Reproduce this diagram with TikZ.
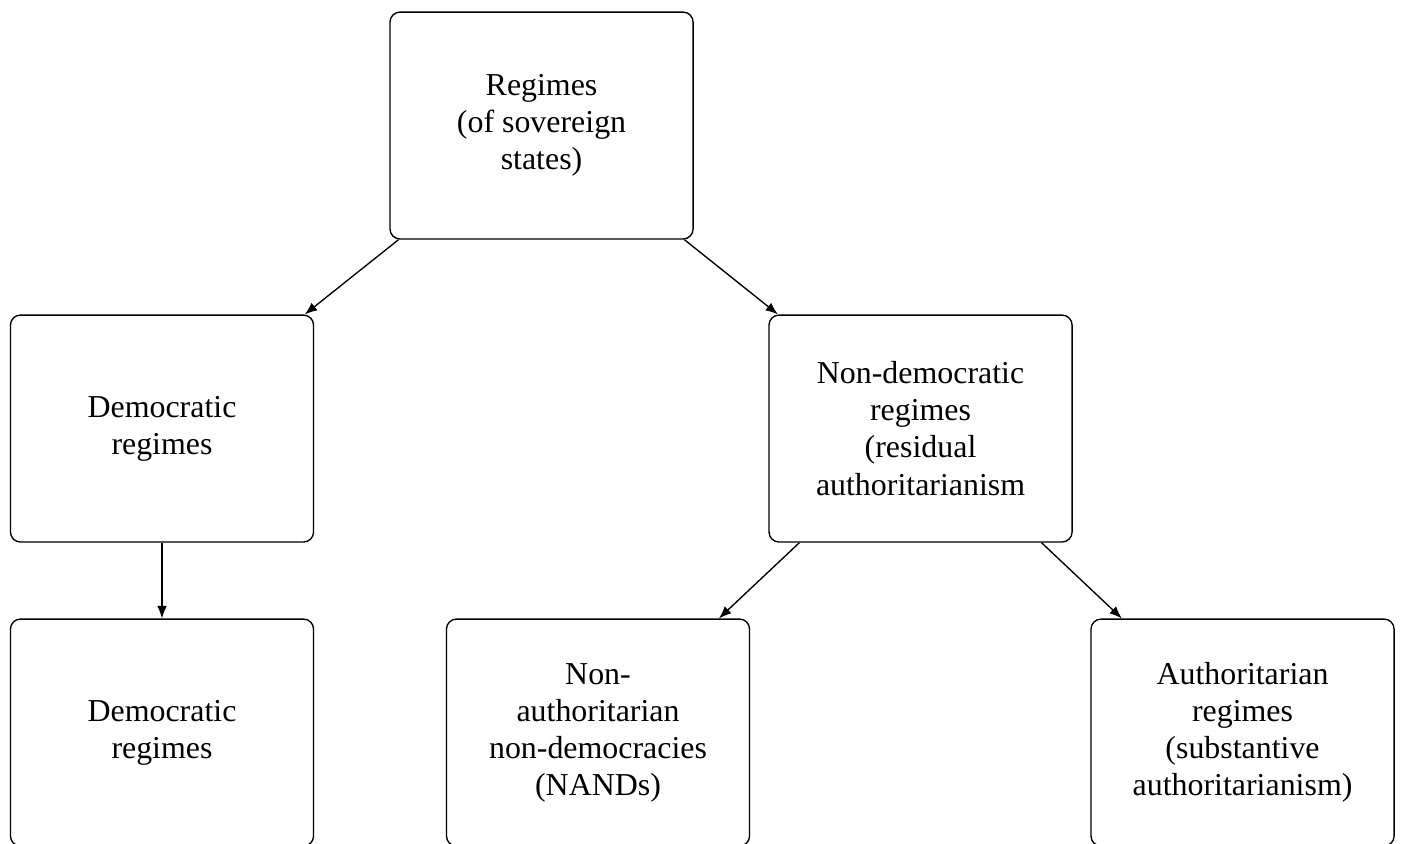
\documentclass[tikz,border=0pt]{standalone}
\usepackage{fontspec}
\setmainfont{Liberation Serif}
\usetikzlibrary{arrows.meta}
\begin{document}
\begin{tikzpicture}[
  regbox/.style={draw, rounded corners=0.13cm, minimum width=3.94cm, minimum height=2.95cm,
    align=center, font=\fontsize{11.8}{13.7}\selectfont, line width=0.5pt},
  link/.style={-{Latex[length=4.6pt,width=3.6pt]}, line width=0.5pt}
]
\useasboundingbox (0,0) rectangle (18.226,-10.959);
% top
\node[regbox] (reg) at (7.04,-1.632) {Regimes\\(of sovereign\\states)};
% middle
\node[regbox] (dem) at (2.106,-5.571) {Democratic\\regimes};
\node[regbox] (nondem) at (11.967,-5.571) {Non-democratic\\regimes\\(residual\\authoritarianism};
% bottom
\node[regbox] (dem2) at (2.106,-9.523) {Democratic\\regimes};
\node[regbox] (nand) at (7.774,-9.523) {Non-\\authoritarian\\non-democracies\\(NANDs)};
\node[regbox] (auth) at (16.153,-9.523) {Authoritarian\\regimes\\(substantive\\authoritarianism)};
\draw[link] (reg) -- (dem);
\draw[link] (reg) -- (nondem);
\draw[link] (dem) -- (dem2);
\draw[link] (nondem) -- (nand);
\draw[link] (nondem) -- (auth);
\end{tikzpicture}
\end{document}
